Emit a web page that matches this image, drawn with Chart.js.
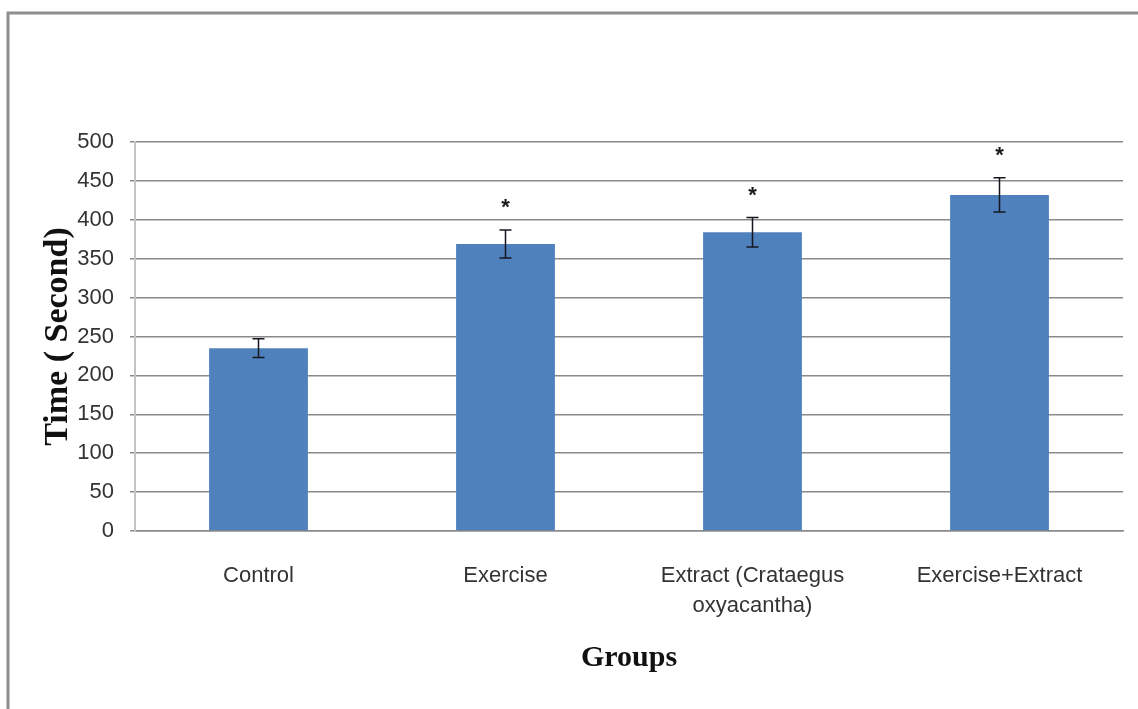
<!DOCTYPE html>
<html>
<head>
<meta charset="utf-8">
<script src="https://cdn.jsdelivr.net/npm/chart.js@4.4.1/dist/chart.umd.min.js"></script>
<style>
  html, body { margin: 0; padding: 0; background: #ffffff; }
  #wrap { position: relative; width: 1138px; height: 709px; }
  canvas { display: block; }
</style>
</head>
<body>
<div id="wrap"><canvas id="c" width="1138" height="709"></canvas></div>
<script>
// ---- data ----
const categories = ["Control", "Exercise", ["Extract (Crataegus", "oxyacantha)"], "Exercise+Extract"];
const meanTime = [235, 369, 384, 432];
const errorTime = [12, 18, 19, 22];
const significant = [false, true, true, true];
const yTicks = [0, 50, 100, 150, 200, 250, 300, 350, 400, 450, 500];

const narrowFont = '"Liberation Sans", Arial, sans-serif';
const serifFont = '"Liberation Serif", "Times New Roman", serif';

const framePlugin = {
  id: 'frame',
  beforeDraw(chart) {
    const ctx = chart.ctx;
    ctx.save();
    ctx.strokeStyle = '#8e8e8e';
    ctx.lineWidth = 3;
    ctx.beginPath();
    ctx.moveTo(8, 709);
    ctx.lineTo(8, 13);
    ctx.lineTo(1138, 13);
    ctx.stroke();
    ctx.restore();
  }
};

const errorPlugin = {
  id: 'errorBars',
  afterDatasetsDraw(chart) {
    const ctx = chart.ctx;
    const y = chart.scales.y;
    const meta = chart.getDatasetMeta(0);
    ctx.save();
    meta.data.forEach((bar, i) => {
      const x = bar.x;
      const top = y.getPixelForValue(meanTime[i] + errorTime[i]);
      const bot = y.getPixelForValue(meanTime[i] - errorTime[i]);
      ctx.strokeStyle = '#15171f';
      ctx.lineWidth = 1.5;
      ctx.beginPath();
      ctx.moveTo(x, top); ctx.lineTo(x, bot);
      ctx.moveTo(x - 6, top); ctx.lineTo(x + 6, top);
      ctx.moveTo(x - 6, bot); ctx.lineTo(x + 6, bot);
      ctx.stroke();
      if (significant[i]) {
        ctx.fillStyle = '#1a1a1a';
        ctx.font = 'bold 22px "Liberation Sans", sans-serif';
        ctx.textAlign = 'center';
        ctx.textBaseline = 'middle';
        ctx.fillText('*', x, top - 22);
      }
    });
    ctx.restore();
  }
};

new Chart(document.getElementById('c'), {
  type: 'bar',
  data: {
    labels: categories,
    datasets: [{
      data: meanTime,
      backgroundColor: '#4F81BD',
      borderWidth: 0,
      barPercentage: 0.4,
      categoryPercentage: 1.0
    }]
  },
  options: {
    responsive: false,
    animation: false,
    devicePixelRatio: 1,
    layout: { padding: { left: 0, right: 15, top: 142, bottom: 0 } },
    plugins: { legend: { display: false }, tooltip: { enabled: false } },
    scales: {
      x: {
        offset: true,
        grid: { display: false, drawTicks: false },
        border: { display: true, color: '#8a8a8a', width: 1.5 },
        ticks: {
          color: '#333333',
          padding: 30,
          maxRotation: 0,
          autoSkip: false,
          font: { family: narrowFont, size: 22, lineHeight: 1.36 }
        },
        title: {
          display: true,
          text: 'Groups',
          color: '#111111',
          font: { family: serifFont, size: 30, weight: 'bold', lineHeight: 1.2 },
          padding: { top: 0, bottom: 33 }
        },
        afterFit(scale) { scale.height = 178; }
      },
      y: {
        min: 0,
        max: 500,
        afterBuildTicks(scale) { scale.ticks = yTicks.map(v => ({ value: v })); },
        grid: { color: '#8a8a8a', lineWidth: 1.5, tickLength: 5, drawTicks: true },
        border: { display: true, color: '#c4c4c4', width: 2 },
        ticks: {
          color: '#333333',
          padding: 16,
          font: { family: narrowFont, size: 22 }
        },
        title: {
          display: true,
          text: 'Time ( Second)',
          color: '#111111',
          font: { family: serifFont, size: 34, weight: 'bold', lineHeight: 1.2 },
          padding: { top: 38, bottom: 0 }
        },
        afterFit(scale) { scale.width = 135; }
      }
    }
  },
  plugins: [framePlugin, errorPlugin]
});
</script>
</body>
</html>
